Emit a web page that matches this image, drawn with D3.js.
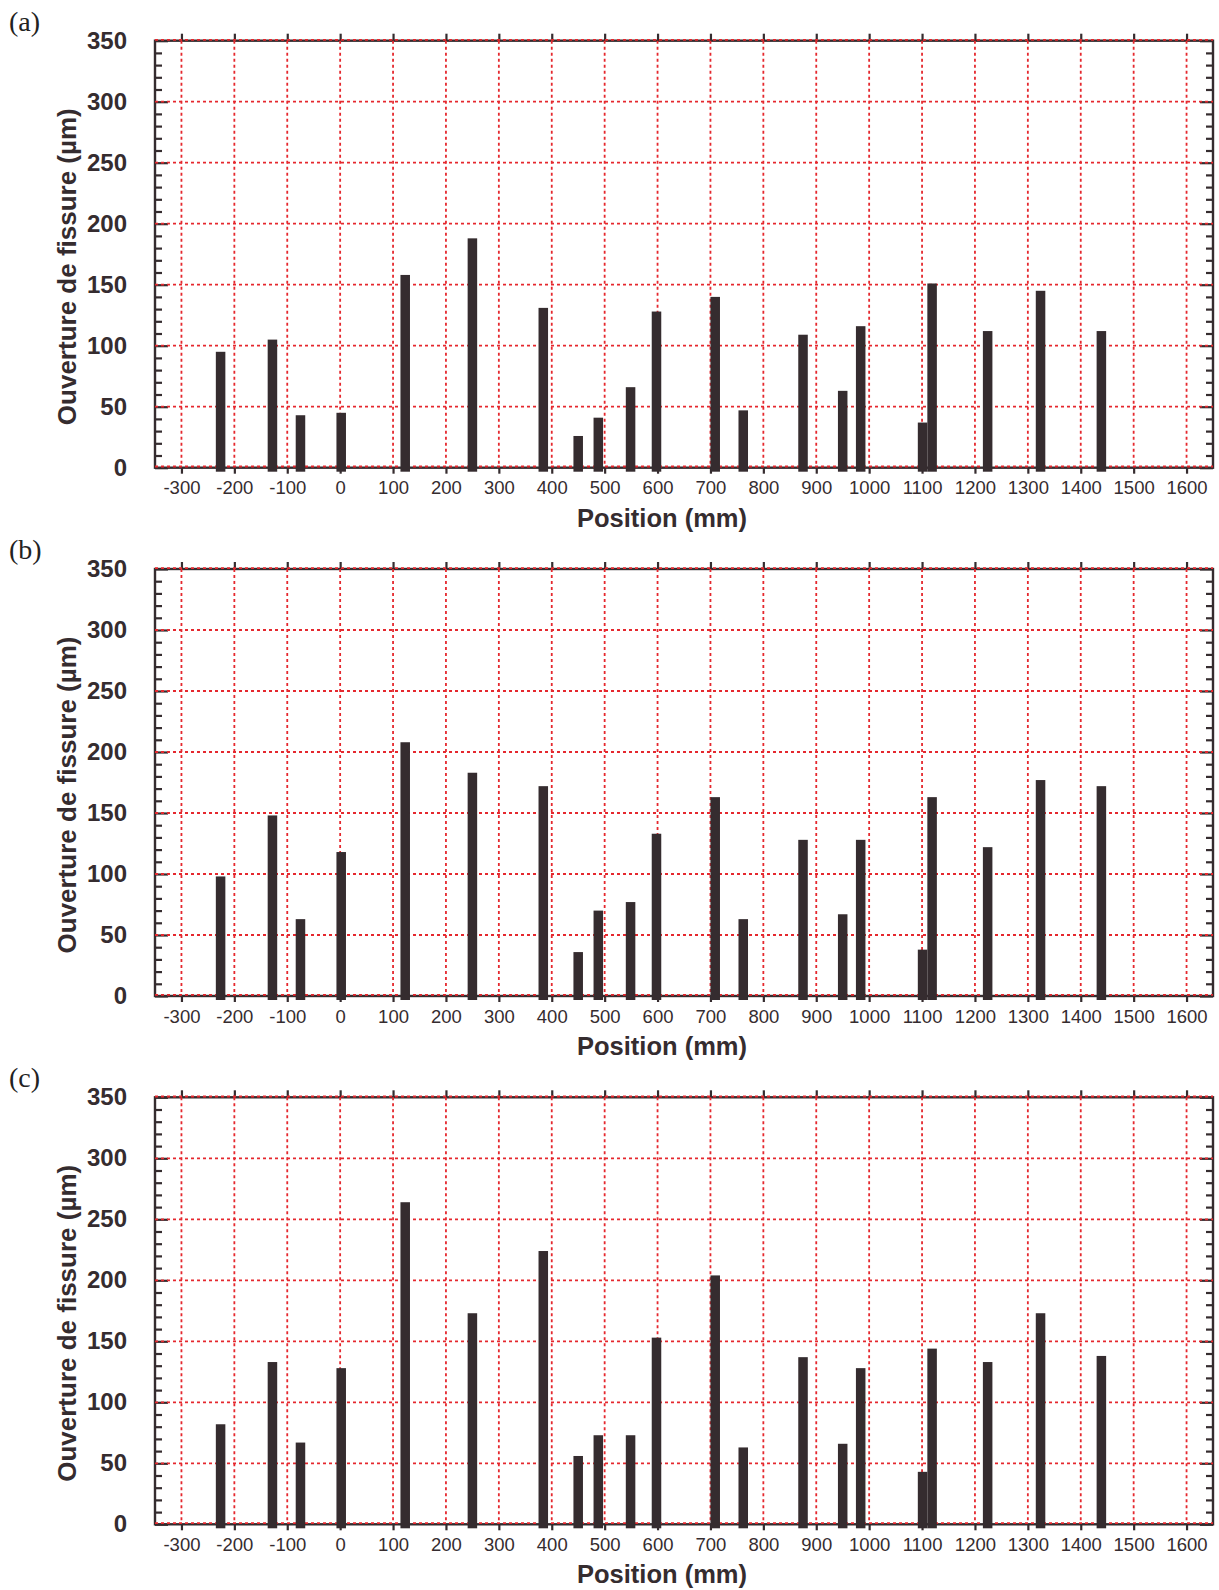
<!DOCTYPE html>
<html>
<head>
<meta charset="utf-8">
<script src="https://cdn.jsdelivr.net/npm/d3@7"></script>
<style>
  html, body { margin: 0; padding: 0; background: #ffffff; }
  svg { display: block; }
</style>
</head>
<body>
<svg id="chart" width="1219" height="1590"></svg>
<script>
// ---- Data ----
const positions = [-226, -128, -75, 2, 123, 250, 384, 450, 488, 549, 598, 709, 762, 875, 950, 984, 1101, 1119, 1224, 1324, 1439];
const openingA = [95, 105, 43, 45, 158, 188, 131, 26, 41, 66, 128, 140, 47, 109, 63, 116, 37, 151, 112, 145, 112];
const openingB = [98, 148, 63, 118, 208, 183, 172, 36, 70, 77, 133, 163, 63, 128, 67, 128, 38, 163, 122, 177, 172];
const openingC = [82, 133, 67, 128, 264, 173, 224, 56, 73, 73, 153, 204, 63, 137, 66, 128, 43, 144, 133, 173, 138];
const panelLabels = ["(a)", "(b)", "(c)"];
const xTickValues = [-300, -200, -100, 0, 100, 200, 300, 400, 500, 600, 700, 800, 900, 1000, 1100, 1200, 1300, 1400, 1500, 1600];
const yMajorTicks = [0, 50, 100, 150, 200, 250, 300, 350];
const yMinorTicks = d3.range(0, 351, 10).filter(v => v % 50 !== 0);
const xTitle = "Position (mm)";
const yTitle = "Ouverture de fissure (µm)";
const barWidthMm = 18;

// ---- Layout ----
const dark = "#352c2f";
const red = "#e5282e";
const left = 155, right = 1213;
const plotH = 427;
const baseY = [467.7, 996, 1524.3];

const svg = d3.select("#chart");
const x = d3.scaleLinear().domain([-350, 1650]).range([left, right]);

const series = [openingA, openingB, openingC];

series.forEach((vals, i) => {
  const y0 = baseY[i];
  const y = d3.scaleLinear().domain([0, 350]).range([y0, y0 - plotH]);
  const g = svg.append("g");

  // frame
  g.append("rect")
    .attr("x", left).attr("y", y(350))
    .attr("width", right - left).attr("height", y(0) - y(350))
    .attr("fill", "none").attr("stroke", dark).attr("stroke-width", 2.4);

  const bx = g.append("g").attr("transform", `translate(0,${y(0)})`)
    .call(d3.axisBottom(x).tickValues(xTickValues).tickSize(6).tickSizeOuter(0).tickPadding(7.5).tickFormat(d => d));
  const tx = g.append("g").attr("transform", `translate(0,${y(350)})`)
    .call(d3.axisTop(x).tickValues(xTickValues).tickSize(7).tickSizeOuter(0).tickFormat(""));
  const ly = g.append("g").attr("transform", `translate(${left},0)`)
    .call(d3.axisLeft(y).tickValues(yMajorTicks).tickSize(-13).tickSizeOuter(0).tickPadding(28).tickFormat(d => d));
  const lym = g.append("g").attr("transform", `translate(${left},0)`)
    .call(d3.axisLeft(y).tickValues(yMinorTicks).tickSize(-7).tickSizeOuter(0).tickFormat(""));
  const ry = g.append("g").attr("transform", `translate(${right},0)`)
    .call(d3.axisRight(y).tickValues(yMajorTicks).tickSize(-13).tickSizeOuter(0).tickFormat(""));
  const rym = g.append("g").attr("transform", `translate(${right},0)`)
    .call(d3.axisRight(y).tickValues(yMinorTicks).tickSize(-7).tickSizeOuter(0).tickFormat(""));

  [bx, tx, ly, lym, ry, rym].forEach(a => {
    a.select(".domain").remove();
    a.selectAll(".tick line").attr("stroke", dark).attr("stroke-width", 2.2);
  });
  bx.selectAll(".tick text")
    .attr("fill", dark).style("font-family", "'Liberation Sans', Arial, sans-serif")
    .style("font-size", "18.5px");
  ly.selectAll(".tick text")
    .attr("fill", dark).style("font-family", "'Liberation Sans', Arial, sans-serif")
    .style("font-size", "24px").style("font-weight", "bold");

  // grid
  const grid = g.append("g");
  grid.selectAll("line.v").data(xTickValues).join("line")
    .attr("x1", d => x(d)).attr("x2", d => x(d))
    .attr("y1", y(350)).attr("y2", y(0) - 1)
    .attr("stroke", red).attr("stroke-width", 1.8).attr("stroke-dasharray", "3,3");
  grid.selectAll("line.h").data(yMajorTicks).join("line")
    .attr("x1", left).attr("x2", right)
    .attr("y1", d => y(d) - (d === 0 ? 1.2 : 0) + (d === 350 ? -0.8 : 0))
    .attr("y2", d => y(d) - (d === 0 ? 1.2 : 0) + (d === 350 ? -0.8 : 0))
    .attr("stroke", red).attr("stroke-width", 1.8).attr("stroke-dasharray", "3,3");

  // bars
  g.append("g").selectAll("rect").data(positions.map((p, k) => ({ p, v: vals[k] }))).join("rect")
    .attr("x", d => x(d.p - barWidthMm / 2))
    .attr("width", d => x(d.p + barWidthMm / 2) - x(d.p - barWidthMm / 2))
    .attr("y", d => y(d.v))
    .attr("height", d => y(0) - y(d.v) + 4)
    .attr("fill", dark);

  // titles
  g.append("text")
    .attr("x", 662).attr("y", y0 + 59)
    .attr("text-anchor", "middle")
    .attr("fill", dark)
    .style("font-family", "'Liberation Sans', Arial, sans-serif")
    .style("font-size", "25.5px").style("font-weight", "bold")
    .text(xTitle);

  g.append("text")
    .attr("transform", `translate(76,${y0 - 201}) rotate(-90)`)
    .attr("text-anchor", "middle")
    .attr("fill", dark)
    .style("font-family", "'Liberation Sans', Arial, sans-serif")
    .style("font-size", "26px").style("font-weight", "bold")
    .text(yTitle);

  g.append("text")
    .attr("x", 9).attr("y", y0 - 437)
    .attr("fill", "#222")
    .style("font-family", "'Liberation Serif', 'DejaVu Serif', serif")
    .style("font-size", "28px")
    .text(panelLabels[i]);
});
</script>
</body>
</html>
